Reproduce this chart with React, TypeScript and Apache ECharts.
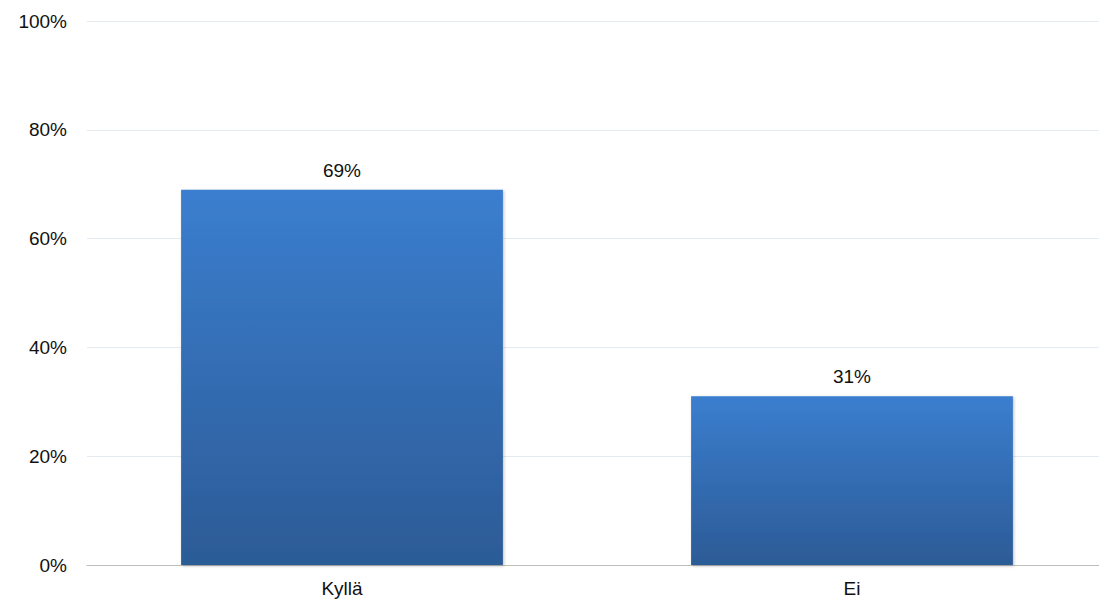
import React, { useEffect, useRef } from "react";
import * as echarts from "echarts";

const categories = ["Kyllä", "Ei"];
const values = [69, 31];
const yTicks = [0, 20, 40, 60, 80, 100];

export default function App() {
  const ref = useRef<HTMLDivElement>(null);
  useEffect(() => {
    const chart = echarts.init(ref.current!, null, { renderer: "svg" });
    const font = "'Liberation Sans', Arial, sans-serif";
    chart.setOption({
      animation: false,
      grid: {
        left: 87,
        width: 1020,
        top: 21,
        bottom: 36,
        containLabel: false,
        outerBoundsMode: "none",
      },
      xAxis: {
        type: "category",
        data: categories,
        axisLine: { lineStyle: { color: "#bdbdbd", width: 1 } },
        axisTick: { show: false },
        axisLabel: { color: "#111", fontSize: 19, fontFamily: font, margin: 14 },
      },
      yAxis: {
        type: "value",
        min: yTicks[0],
        max: yTicks[yTicks.length - 1],
        interval: 20,
        axisLine: { show: false },
        axisTick: { show: false },
        splitLine: { lineStyle: { color: "#e4eaf2", width: 1 } },
        axisLabel: {
          color: "#111",
          fontSize: 19,
          fontFamily: font,
          margin: 20,
          formatter: (v: number) => v + "%",
        },
      },
      series: [
        {
          type: "bar",
          data: values,
          barWidth: "63.1%",
          itemStyle: {
            color: new echarts.graphic.LinearGradient(0, 0, 0, 1, [
              { offset: 0, color: "#3b7ecf" },
              { offset: 1, color: "#2c5b96" },
            ]),
            shadowColor: "rgba(0,0,0,0.25)",
            shadowBlur: 3,
            shadowOffsetX: 1,
            shadowOffsetY: 1,
          },
          label: {
            show: true,
            position: "top",
            distance: 10,
            color: "#111",
            fontSize: 19,
            fontFamily: font,
            formatter: (p: any) => p.value + "%",
          },
        },
      ],
    });
    return () => chart.dispose();
  }, []);
  return (
    <div
      ref={ref}
      style={{ position: "absolute", left: 0, top: 0, width: 1099, height: 601 }}
    />
  );
}
